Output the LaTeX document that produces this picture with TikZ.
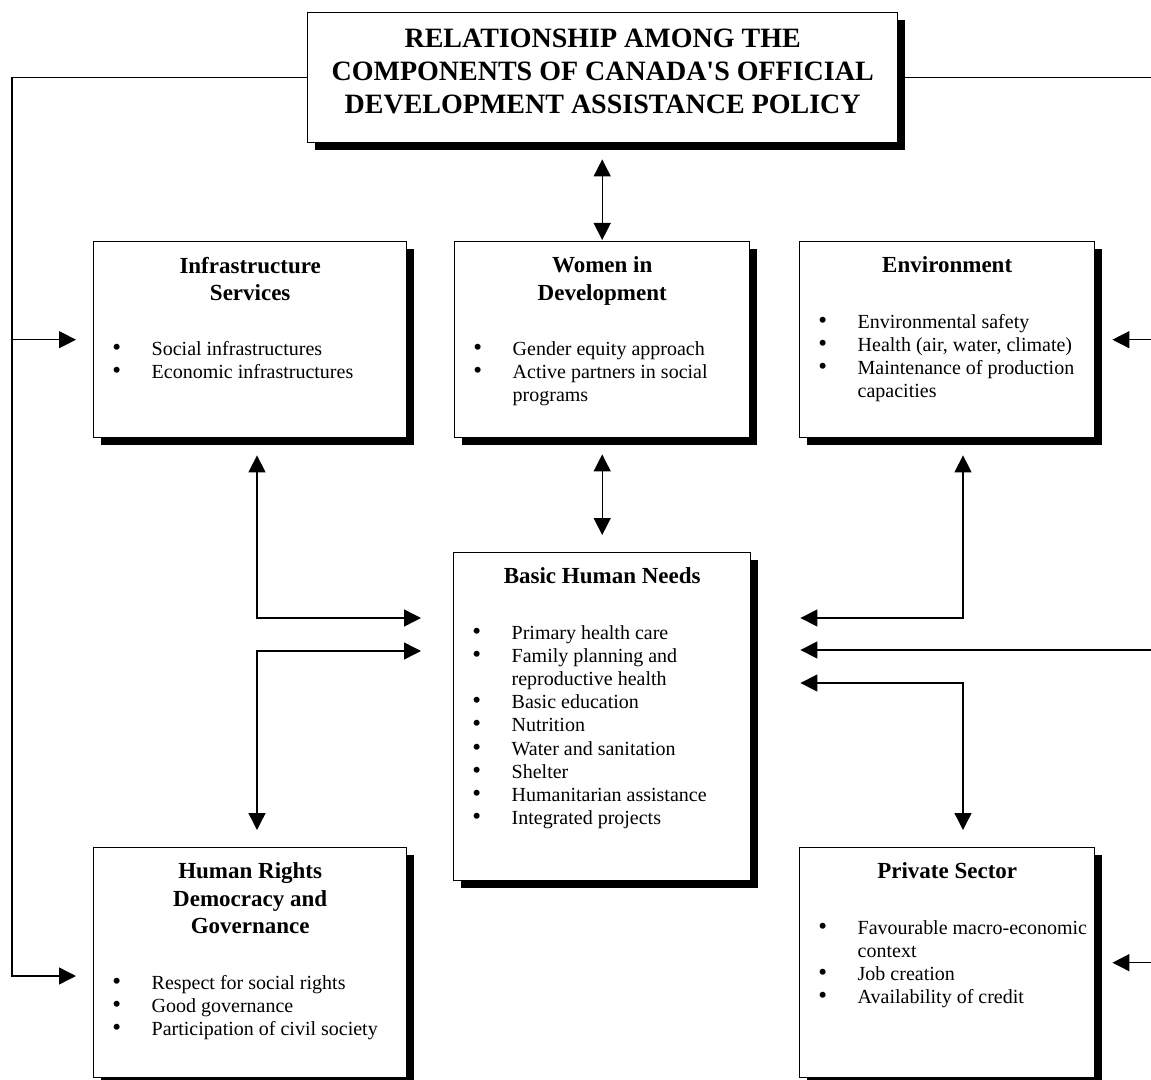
\documentclass[tikz,border=0pt]{standalone}
\usepackage{fontspec}
\setmainfont{Liberation Serif}
\usepackage{tikz}
\usetikzlibrary{arrows.meta,shadows}

\newcommand\itm[1]{\par\hangindent=29pt\hangafter=1\noindent\hbox to 29pt{\hskip 9.3pt{\fontsize{12.5}{11.6}\selectfont\textbullet}\hfil}#1}
\newcommand\comptext[4]{%
  \parbox[c][#2][t]{#1}{\vspace*{7.6pt}%
    {\centering\fontsize{11.5}{13.75}\selectfont\bfseries #3\par}%
    \vspace{16pt}%
    \fontsize{10}{11.6}\selectfont\raggedright #4\par}}

\begin{document}
\begin{tikzpicture}[x=0.5pt, y=-0.5pt,
    comp/.style={draw, line width=0.7pt, fill=white, inner sep=0pt, anchor=north west,
      drop shadow={shadow xshift=3.5pt, shadow yshift=-3.5pt, fill=black, opacity=1}},
    arr/.style={-{Triangle[length=8.5pt,width=8.5pt]}, line width=0.7pt},
    biarr/.style={{Triangle[length=8.5pt,width=8.5pt]}-{Triangle[length=8.5pt,width=8.5pt]}, line width=0.7pt}
  ]
  \useasboundingbox (0,0) rectangle (1151,1080);

  \node[comp] (title) at (307,12) {\parbox[c][65pt][t]{295pt}{\vspace*{8pt}\centering
    \fontsize{14}{16.5}\selectfont\bfseries RELATIONSHIP AMONG THE\\
    COMPONENTS OF CANADA\textquotesingle S OFFICIAL\\
    DEVELOPMENT ASSISTANCE POLICY}};

  \node[comp] (infra) at (93,241) {\comptext{156.5pt}{98pt}{Infrastructure\\Services}{%
    \itm{Social infrastructures}
    \itm{Economic infrastructures}}};
  \node[comp] (women) at (454,241) {\comptext{147.5pt}{98pt}{Women in\\Development}{%
    \itm{Gender equity approach}
    \itm{Active partners in social\newline programs}}};
  \node[comp] (env) at (799,241) {\comptext{147.5pt}{98pt}{Environment}{%
    \itm{Environmental safety}
    \itm{Health (air, water, climate)}
    \itm{Maintenance of production\newline capacities}}};
  \node[comp] (basic) at (453,552) {\comptext{148.5pt}{164pt}{Basic Human Needs}{%
    \itm{Primary health care}
    \itm{Family planning and\newline reproductive health}
    \itm{Basic education}
    \itm{Nutrition}
    \itm{Water and sanitation}
    \itm{Shelter}
    \itm{Humanitarian assistance}
    \itm{Integrated projects}}};
  \node[comp] (hr) at (93,847) {\comptext{156.5pt}{115pt}{Human Rights\\Democracy and\\Governance}{%
    \itm{Respect for social rights}
    \itm{Good governance}
    \itm{Participation of civil society}}};
  \node[comp] (priv) at (799,847) {\comptext{147.5pt}{115pt}{Private Sector}{%
    \itm{Favourable macro-economic\newline context}
    \itm{Job creation}
    \itm{Availability of credit}}};

  % outer frame from the policy box
  \coordinate (lspine) at (12,0);
  \coordinate (rspine) at (1156,0);
  \draw[line width=0.7pt] (title.east) -| (rspine |- priv.east);
  \draw[arr, shorten >=8.5pt] (title.west) -| (lspine |- 0,976) -- (hr.west |- 0,976);
  \draw[arr, shorten >=8.5pt] (lspine |- infra.west) -- (infra.west);
  \draw[arr, shorten >=8.5pt] (rspine |- env.east) -- (env.east);
  \draw[arr, shorten >=24.5pt] (rspine |- 0,650) -- (basic.east |- 0,650);
  \draw[arr, shorten >=8.5pt] (rspine |- priv.east) -- (priv.east);

  \path[biarr]
  (women.north |- title.south) edge[shorten <=8pt, shorten >=0.5pt] (women.north)
  (women.south) edge[shorten <=8pt, shorten >=8.5pt] (basic.north -| women.south)
  ;
  \draw[biarr, shorten <=8.5pt, shorten >=16pt] (infra.south -| 257,0) |- (basic.west |- 0,618);
  \draw[biarr, shorten <=16pt, shorten >=8.5pt] (basic.west |- 0,651) -| (hr.north -| 257,0);
  \draw[biarr, shorten <=8.5pt, shorten >=24.5pt] (env.south -| 963,0) |- (basic.east |- 0,618);
  \draw[biarr, shorten <=24.5pt, shorten >=8.5pt] (basic.east |- 0,683) -| (priv.north -| 963,0);
\end{tikzpicture}
\end{document}
